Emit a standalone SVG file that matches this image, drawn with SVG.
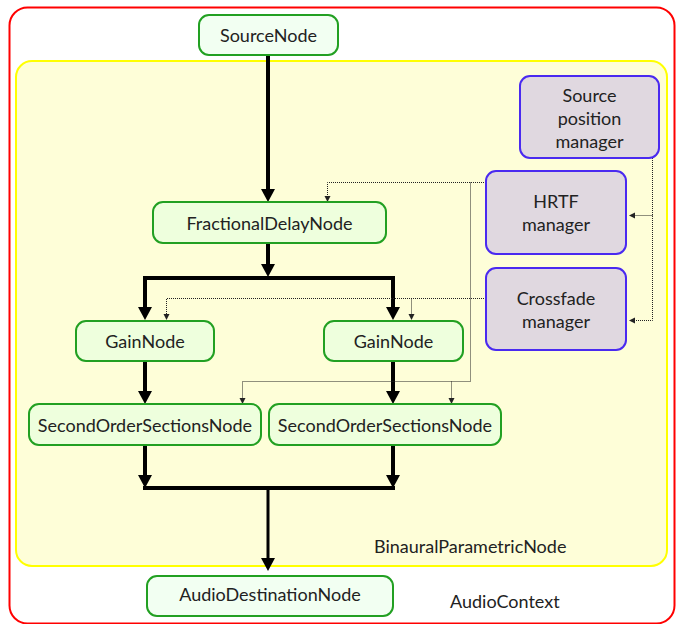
<svg xmlns="http://www.w3.org/2000/svg" width="683" height="624" viewBox="0 0 683 624">
<style>
text{font-family:Lato,"Open Sans","DejaVu Sans",sans-serif;font-size:18px;fill:#222;text-anchor:middle}
.lbl{text-anchor:start}
.node{fill:#eeffdd;stroke:#22a022;stroke-width:2}
.io{fill:#f2fff2;stroke:#22a022;stroke-width:2}
.mgr{fill:#e0d8e0;stroke:#4a2af0;stroke-width:2}
.thick{fill:none;stroke:#000;stroke-width:4}
.dot{fill:none;stroke:#222;stroke-width:1;stroke-dasharray:1 1}
</style>
<defs>
<marker id="big" markerUnits="userSpaceOnUse" markerWidth="16" markerHeight="16" viewBox="0 -8 14 16" refX="0" refY="0" orient="auto">
<path d="M0,-7 L13,0 L0,7 z" fill="#000"/>
</marker>
<marker id="small" markerUnits="userSpaceOnUse" markerWidth="8" markerHeight="8" viewBox="0 -4 7 8" refX="0" refY="0" orient="auto">
<path d="M0,-3 L6,0 L0,3 z" fill="#222"/>
</marker>
</defs>
<g id="AudioContext">
<rect x="9.5" y="7.5" width="665" height="616" rx="18" fill="#fff" stroke="#ff0000" stroke-width="2"/>
<text class="lbl" x="450" y="608">AudioContext</text>
</g>
<g id="BinauralParametricNode">
<rect x="16" y="61" width="651" height="505" rx="16" fill="#fefed8" stroke="#ffff00" stroke-width="2"/>
<text class="lbl" x="374" y="553">BinauralParametricNode</text>
</g>
<g id="connectors">
<path class="thick" d="M268,55 V189" marker-end="url(#big)"/>
<path class="thick" d="M268,243 V264" marker-end="url(#big)"/>
<path class="thick" d="M268,278 H145 V307" marker-end="url(#big)"/>
<path class="thick" d="M268,278 H393 V307" marker-end="url(#big)"/>
<path class="thick" d="M145,361 V391" marker-end="url(#big)"/>
<path class="thick" d="M393,361 V391" marker-end="url(#big)"/>
<path class="thick" d="M145,445 V475" marker-end="url(#big)"/>
<path class="thick" d="M393,445 V475" marker-end="url(#big)"/>
<path class="thick" d="M143,488 H395"/>
<path class="thick" style="stroke-width:3" d="M268,488 V558" marker-end="url(#big)"/>
<path class="dot" d="M486,182.5 H327.5 V196" marker-end="url(#small)"/>
<path class="dot" d="M470.5,182.5 V381.5 H242.5 V398" marker-end="url(#small)"/>
<path class="dot" d="M451.5,381.5 V398" marker-end="url(#small)"/>
<path class="dot" d="M486,298.5 H166.5 V314" marker-end="url(#small)"/>
<path class="dot" d="M411.5,298.5 V314" marker-end="url(#small)"/>
<path class="dot" d="M652.5,158 V320.5 H635" marker-end="url(#small)"/>
<path class="dot" d="M652.5,215.5 H635" marker-end="url(#small)"/>
</g>
<g id="SourceNode">
<rect class="io" x="199" y="15" width="139" height="40" rx="10"/>
<text x="268.5" y="41.5">SourceNode</text>
</g>
<g id="FractionalDelayNode">
<rect class="node" x="153" y="202" width="233" height="41" rx="10"/>
<text x="269.5" y="230">FractionalDelayNode</text>
</g>
<g id="GainNodeL">
<rect class="node" x="76" y="321" width="138" height="40" rx="10"/>
<text x="145" y="347.5">GainNode</text>
</g>
<g id="GainNodeR">
<rect class="node" x="324" y="321" width="139" height="40" rx="10"/>
<text x="393.5" y="347.5">GainNode</text>
</g>
<g id="SOSNodeL">
<rect class="node" x="29" y="404" width="232" height="41" rx="10"/>
<text x="145" y="432">SecondOrderSectionsNode</text>
</g>
<g id="SOSNodeR">
<rect class="node" x="269" y="404" width="232" height="41" rx="10"/>
<text x="385" y="432">SecondOrderSectionsNode</text>
</g>
<g id="AudioDestinationNode">
<rect class="io" x="147" y="576" width="246" height="40" rx="10"/>
<text x="270" y="601">AudioDestinationNode</text>
</g>
<g id="SourcePositionManager">
<rect class="mgr" x="520" y="76" width="139" height="82" rx="10"/>
<text x="589.5" y="101.5">Source</text>
<text x="589.5" y="124.5">position</text>
<text x="589.5" y="147.5">manager</text>
</g>
<g id="HRTFManager">
<rect class="mgr" x="486" y="171" width="140" height="83" rx="10"/>
<text x="556" y="207.5">HRTF</text>
<text x="556" y="230.5">manager</text>
</g>
<g id="CrossfadeManager">
<rect class="mgr" x="486" y="268" width="140" height="82" rx="10"/>
<text x="556" y="305">Crossfade</text>
<text x="556" y="328">manager</text>
</g>
</svg>
